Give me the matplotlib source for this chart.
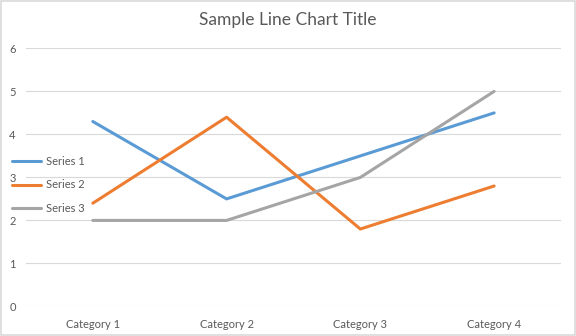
import numpy as np
import matplotlib.pyplot as plt
from matplotlib.patches import Rectangle

categories = ['Category 1', 'Category 2', 'Category 3', 'Category 4']
series1 = [4.3, 2.5, 3.5, 4.5]
series2 = [2.4, 4.4, 1.8, 2.8]
series3 = [2, 2, 3, 5]
names = ['Series 1', 'Series 2', 'Series 3']
colors = ['#5B9BD5', '#ED7D31', '#A5A5A5']

plt.rcParams['font.family'] = ['Lato', 'DejaVu Sans']
txt = '#595959'

fig = plt.figure(figsize=(5.76, 3.36), dpi=100)
ax = fig.add_axes([0.045, 0.088, 0.929, 0.768])

x = np.arange(len(categories))
for vals, nm, c in zip([series1, series2, series3], names, colors):
    ax.plot(x, vals, color=c, lw=2.2, label=nm, solid_capstyle='round')

ax.set_xlim(-0.5, 3.5)
ax.set_ylim(0, 6)
ax.set_yticks(range(0, 7))
ax.set_xticks(x)
ax.set_xticklabels(categories)
ax.tick_params(length=0, labelsize=8, colors=txt)
ax.tick_params(axis='x', pad=9)
ax.tick_params(axis='y', pad=12)
for lab in ax.get_yticklabels():
    lab.set_horizontalalignment('left')
ax.grid(axis='y', color='#D9D9D9', lw=0.8)
ax.set_axisbelow(True)
for s in ax.spines.values():
    s.set_visible(False)

fig.text(0.5, 0.94, 'Sample Line Chart Title', ha='center', va='center',
         fontsize=12.5, color=txt)

fig.legend(loc='upper left', bbox_to_anchor=(0.008, 0.56), frameon=False,
           fontsize=8, labelcolor=txt, handlelength=2.6, handletextpad=0.4,
           labelspacing=1.15, borderaxespad=0.3)

fig.add_artist(Rectangle((0.001, 0.002), 0.997, 0.995, transform=fig.transFigure,
                         fill=False, edgecolor='#D9D9D9', lw=1.2))

fig.savefig('out.png', dpi=100)
